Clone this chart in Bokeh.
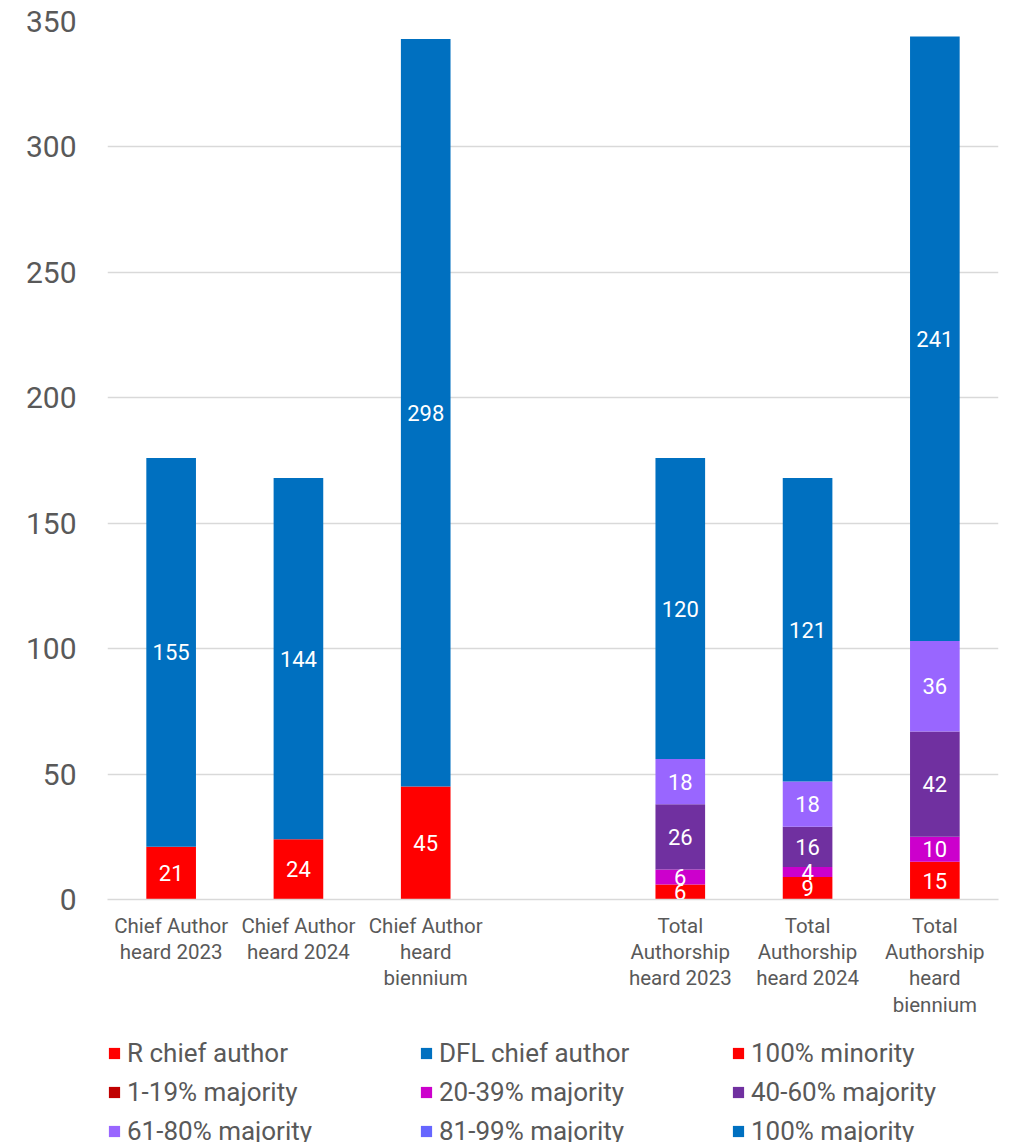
from bokeh.plotting import figure
from bokeh.layouts import column
from bokeh.models import ColumnDataSource, Range1d, FixedTicker, Legend, LegendItem
from bokeh.embed import file_html
from bokeh.resources import INLINE
from bokeh.core.properties import value

categories = ["Chief Author\nheard 2023", "Chief Author\nheard 2024", "Chief Author\nheard\nbiennium", "",
              "Total\nAuthorship\nheard 2023", "Total\nAuthorship\nheard 2024", "Total\nAuthorship\nheard\nbiennium"]
series = ["R chief author", "DFL chief author", "100% minority", "1-19% majority", "20-39% majority",
          "40-60% majority", "61-80% majority", "81-99% majority", "100% majority"]
r_chief = [21, 24, 45, 0, 0, 0, 0]
dfl_chief = [155, 144, 298, 0, 0, 0, 0]
minority_100 = [0, 0, 0, 0, 6, 9, 15]
maj_1_19 = [0, 0, 0, 0, 0, 0, 0]
maj_20_39 = [0, 0, 0, 0, 6, 4, 10]
maj_40_60 = [0, 0, 0, 0, 26, 16, 42]
maj_61_80 = [0, 0, 0, 0, 18, 18, 36]
maj_81_99 = [0, 0, 0, 0, 0, 0, 0]
maj_100 = [0, 0, 0, 0, 120, 121, 241]
colors = ["#FF0000", "#0070C0", "#FF0000", "#C00000", "#CC00CC", "#7030A0", "#9966FF", "#6666FF", "#0070C0"]
y_ticks = [0, 50, 100, 150, 200, 250, 300, 350]

FONT = "Roboto"
values = [r_chief, dfl_chief, minority_100, maj_1_19, maj_20_39, maj_40_60, maj_61_80, maj_81_99, maj_100]
xs = list(range(len(categories)))
data = {"x": xs}
keys = []
for i, v in enumerate(values):
    k = "s%d" % i
    keys.append(k)
    data[k] = v
src = ColumnDataSource(data)

p = figure(width=1005, height=1025, output_backend="svg", toolbar_location=None,
           x_range=Range1d(-0.5, 6.5), y_range=Range1d(0, 350),
           min_border_left=107, min_border_right=7, min_border_top=21, min_border_bottom=126)
p.outline_line_color = None

renderers = p.vbar_stack(keys, x="x", width=0.39, color=colors, source=src, line_color=None)

# data labels
lx, ly, lt = [], [], []
for j in xs:
    base = 0
    for v in values:
        if v[j] > 0:
            lx.append(j)
            ly.append(base + v[j] / 2)
            lt.append(str(v[j]))
        base += v[j]
lsrc = ColumnDataSource(dict(x=lx, y=ly, t=lt))
p.text(x="x", y="y", text="t", source=lsrc, text_color="white", text_font=value(FONT),
       text_font_size="22px", text_align="center", text_baseline="middle")

# axes
p.yaxis.ticker = FixedTicker(ticks=y_ticks)
p.yaxis.axis_line_color = None
p.yaxis.major_tick_line_color = None
p.yaxis.minor_tick_line_color = None
p.yaxis.major_label_standoff = 25
p.yaxis.major_label_text_font_size = "30px"
p.yaxis.major_label_text_color = "#595959"
p.yaxis.major_label_text_font = FONT

p.xaxis.ticker = FixedTicker(ticks=[j for j in xs if categories[j] != ""])
p.xaxis.major_label_overrides = {j: categories[j] for j in xs if categories[j] != ""}
p.xaxis.axis_line_color = "#D9D9D9"
p.xaxis.axis_line_width = 1.5
p.xaxis.major_tick_line_color = None
p.xaxis.minor_tick_line_color = None
p.xaxis.major_label_standoff = 8
p.xaxis.major_label_text_font_size = "20.5px"
p.xaxis.major_label_text_color = "#595959"
p.xaxis.major_label_text_font = FONT
p.xaxis.major_label_text_line_height = 1.1
p.xaxis.major_label_text_align = "center"

p.xgrid.grid_line_color = None
p.ygrid.ticker = FixedTicker(ticks=y_ticks)
p.ygrid.grid_line_color = "#D9D9D9"
p.ygrid.grid_line_width = 1.5

# legend panel: frame aligned with the chart frame (107..998)
LH = 117
lf = figure(width=1005, height=LH, output_backend="svg", toolbar_location=None,
            x_range=Range1d(0, 1), y_range=Range1d(0, 1),
            x_axis_location=None, y_axis_location=None,
            min_border_left=107, min_border_right=7, min_border_top=0, min_border_bottom=0)
lf.grid.visible = False
lf.outline_line_color = None
swatches = [lf.vbar(x=[-1000], top=[0], width=0.5, fill_color=colors[i], line_color=None)
            for i in range(len(series))]
items = [LegendItem(label=series[i], renderers=[swatches[i]]) for i in range(len(series))]
legend = Legend(items=items, location=(0, -4), orientation="horizontal", ncols=3,
                glyph_width=14, glyph_height=14, label_text_font_size="26px",
                label_text_color="#595959", label_text_font=FONT, label_standoff=6,
                label_height=30, label_width=283, spacing=9, padding=0, margin=0,
                border_line_color=None, background_fill_alpha=0)
lf.add_layout(legend, "center")

layout = column(p, lf, spacing=0)
open("out.html", "w").write(file_html(layout, INLINE))
